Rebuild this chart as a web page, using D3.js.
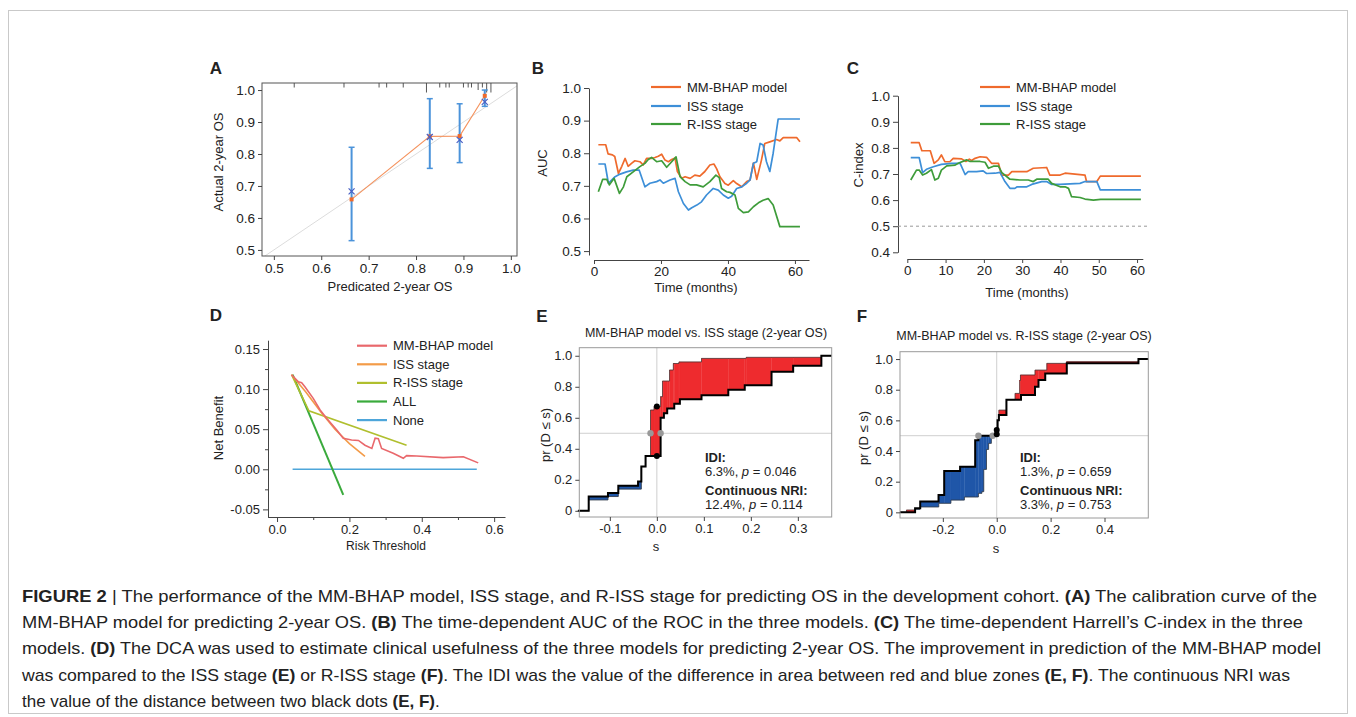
<!DOCTYPE html>
<html>
<head>
<meta charset="utf-8">
<script src="https://cdn.jsdelivr.net/npm/d3@7"></script>
<style>
  body { margin: 0; background: #fff; }
  svg text { font-family: "Liberation Sans", Arial, Helvetica, sans-serif; fill: #222; }
</style>
</head>
<body>
<svg id="fig" width="1356" height="717"></svg>
<script>
// ---------- data ----------
// A: calibration (predicted vs actual 2-year OS)
var calPred = [0.664, 0.829, 0.892, 0.945];
var calObs  = [0.658, 0.855, 0.856, 0.982];
var calCorr = [0.683, 0.853, 0.844, 0.963];
var calLo   = [0.529, 0.755, 0.773, 0.949];
var calHi   = [0.821, 0.973, 0.957, 1.000];
var rugX = [0.543, 0.648, 0.722, 0.738, 0.773, 0.822, 0.850, 0.863, 0.870, 0.900, 0.910, 0.917, 0.931, 0.940, 0.949, 0.958];
var rugN = [1, 1, 1, 1, 1, 3, 1, 1, 1, 1, 1, 1, 2, 1, 3, 3];

// B: time-dependent AUC  [month, AUC]
var aucModel = [[1.3,0.826],[3.5,0.826],[4.2,0.798],[5.5,0.795],[6.2,0.79],[7.3,0.738],[8.3,0.76],[9.3,0.784],[10.2,0.76],[11.2,0.769],[12.2,0.777],[13.7,0.774],[14.7,0.764],[15.7,0.784],[17.2,0.784],[18.2,0.787],[19.2,0.791],[20.2,0.797],[21.2,0.779],[22.2,0.774],[23.2,0.781],[24.2,0.785],[24.9,0.744],[26.2,0.723],[27.2,0.728],[28.7,0.723],[30.1,0.733],[31.6,0.73],[33.1,0.744],[34.6,0.764],[35.8,0.767],[36.6,0.753],[37.6,0.728],[39.1,0.707],[40.1,0.702],[41.6,0.716],[42.6,0.707],[44.1,0.697],[45.6,0.713],[46.6,0.718],[47.6,0.77],[48.6,0.72],[50,0.779],[51,0.83],[52.5,0.835],[54.5,0.842],[55.5,0.838],[56.5,0.848],[60.5,0.848],[61.5,0.835]];
var aucISS = [[1.3,0.767],[3.3,0.767],[4.3,0.708],[6.3,0.728],[7.8,0.736],[9.7,0.743],[11.7,0.748],[13.5,0.748],[15.2,0.697],[16.7,0.708],[18.7,0.713],[19.7,0.718],[20.7,0.708],[22.7,0.718],[24.2,0.723],[25.2,0.682],[26.7,0.646],[28.2,0.626],[29.2,0.633],[30.7,0.641],[32.1,0.651],[33.6,0.672],[35.6,0.692],[37.1,0.687],[38.6,0.672],[40.1,0.662],[41.1,0.668],[42.6,0.692],[44.1,0.697],[45.6,0.708],[46.6,0.718],[47.6,0.769],[48.6,0.774],[49.6,0.83],[50.5,0.825],[51.5,0.774],[52.5,0.744],[53.5,0.8],[55,0.905],[61.5,0.905]];
var aucRISS = [[1.3,0.682],[2.6,0.72],[3.8,0.72],[4.6,0.703],[6,0.723],[7.6,0.677],[8.8,0.697],[9.8,0.728],[11.7,0.743],[13.7,0.759],[15.2,0.769],[16.2,0.781],[17.2,0.787],[18.7,0.774],[20.2,0.777],[21.7,0.757],[23.2,0.774],[24.5,0.789],[25.7,0.728],[27.2,0.713],[28.7,0.703],[30.6,0.703],[32.6,0.697],[34.6,0.713],[36.4,0.733],[37.4,0.725],[38.1,0.692],[39.6,0.682],[40.6,0.68],[42.1,0.672],[43.1,0.631],[44.6,0.618],[46.1,0.62],[47.6,0.636],[49.1,0.648],[50.5,0.656],[52,0.661],[53.5,0.641],[55.5,0.575],[61.5,0.575]];

// C: time-dependent C-index  [month, C]
var cModel = [[0.9,0.82],[3.1,0.82],[3.8,0.789],[6,0.789],[7,0.741],[8.1,0.754],[8.9,0.773],[9.8,0.747],[11.1,0.747],[12,0.76],[14.2,0.758],[15.3,0.748],[16.2,0.757],[16.8,0.752],[17.7,0.76],[19,0.766],[20.7,0.764],[22,0.741],[23.8,0.741],[24.6,0.696],[26.4,0.696],[27.3,0.709],[31.2,0.709],[32.9,0.722],[36.4,0.725],[37.2,0.696],[39.9,0.696],[41.2,0.703],[46.4,0.696],[46.8,0.671],[49.5,0.671],[50.4,0.692],[61,0.692]];
var cISS = [[0.9,0.763],[3.1,0.763],[4,0.705],[5,0.718],[6.8,0.728],[8.9,0.737],[11.6,0.741],[13.8,0.741],[15.1,0.698],[15.9,0.709],[18.1,0.709],[19.8,0.712],[20.7,0.702],[22.9,0.703],[24.2,0.706],[25.5,0.671],[26.8,0.645],[28.1,0.645],[28.7,0.651],[31.2,0.651],[32.5,0.66],[35.1,0.671],[36.4,0.671],[37.7,0.66],[39.9,0.66],[45.1,0.664],[46.4,0.671],[49.5,0.671],[50.4,0.639],[61,0.639]];
var cRISS = [[0.9,0.677],[2.4,0.715],[3.1,0.715],[4,0.696],[5,0.703],[6.3,0.717],[7.2,0.677],[8.1,0.684],[8.9,0.715],[10.3,0.731],[12.5,0.734],[13.3,0.741],[15.5,0.754],[16.4,0.748],[19,0.748],[20.3,0.745],[21.2,0.722],[22.5,0.73],[23.8,0.73],[24.7,0.705],[26.8,0.68],[29.4,0.677],[31.6,0.677],[32.9,0.671],[33.8,0.68],[36.8,0.68],[37.7,0.664],[39.9,0.651],[41.2,0.651],[42.1,0.645],[42.9,0.613],[45.1,0.61],[46.4,0.604],[48.6,0.6],[50.5,0.603],[61,0.603]];

// D: decision curves  [threshold, net benefit]
var dcaModel = [[0.04,0.118],[0.059,0.109],[0.068,0.108],[0.077,0.103],[0.1,0.0885],[0.119,0.074],[0.137,0.0636],[0.165,0.049],[0.183,0.0387],[0.206,0.0365],[0.225,0.036],[0.243,0.03],[0.262,0.026],[0.271,0.0387],[0.28,0.038],[0.289,0.026],[0.321,0.02],[0.349,0.0137],[0.358,0.017],[0.386,0.0166],[0.459,0.0145],[0.515,0.0157],[0.556,0.008]];
var dcaISS = [[0.04,0.118],[0.08,0.096],[0.12,0.072],[0.16,0.05],[0.2,0.032],[0.243,0.016]];
var dcaRISS = [[0.04,0.118],[0.088,0.073],[0.358,0.03]];
var dcaAll = [[0.043,0.118],[0.183,-0.032]];
var dcaNone = [[0.043,0],[0.552,0]];

// E, F: cumulative distributions of risk difference  [s, pr(D<=s)]
var idiE_A = [[-0.168,0],[-0.145,0.092],[-0.104,0.114],[-0.082,0.161],[-0.04,0.189],[-0.033,0.285],[-0.024,0.354],[0.008,0.6],[0.015,0.63],[0.022,0.66],[0.037,0.69],[0.049,0.72],[0.095,0.745],[0.152,0.78],[0.187,0.81],[0.244,0.897],[0.29,0.935],[0.35,1.0]];
var idiE_B = [[-0.168,0],[-0.145,0.07],[-0.104,0.092],[-0.082,0.14],[-0.033,0.285],[-0.024,0.354],[-0.0135,0.65],[-0.006,0.672],[0.008,0.736],[0.012,0.837],[0.027,0.908],[0.035,0.95],[0.047,0.96],[0.095,0.983],[0.19,0.99],[0.35,1.0]];
var idiF_A = [[-0.359,0],[-0.303,0.026],[-0.284,0.07],[-0.216,0.113],[-0.195,0.27],[-0.136,0.298],[-0.08,0.47],[-0.068,0.5],[-0.002,0.51],[0.003,0.6],[0.008,0.635],[0.036,0.735],[0.09,0.765],[0.142,0.82],[0.155,0.863],[0.18,0.906],[0.26,0.972],[0.526,1.0]];
var idiF_B = [[-0.359,0],[-0.335,0.015],[-0.303,0.02],[-0.285,0.035],[-0.215,0.059],[-0.17,0.08],[-0.12,0.1],[-0.068,0.124],[-0.055,0.135],[-0.048,0.28],[-0.038,0.41],[-0.03,0.45],[-0.02,0.49],[-0.015,0.5],[0,0.537],[0.004,0.6],[0.008,0.667],[0.036,0.735],[0.068,0.776],[0.085,0.86],[0.088,0.896],[0.142,0.928],[0.186,0.972],[0.26,0.983],[0.526,1.0]];

var seriesNames = ["MM-BHAP model", "ISS stage", "R-ISS stage"];
var seriesColors = ["#ef6a2c", "#3d8fd8", "#3e9c3a"];
var dcaNames = ["MM-BHAP model", "ISS stage", "R-ISS stage", "ALL", "None"];
var dcaColors = ["#e9686c", "#f39b48", "#b0bf2e", "#3aaa3c", "#4ea6da"];

var captionLines = [
  [["FIGURE 2", 1], [" | The performance of the MM-BHAP model, ISS stage, and R-ISS stage for predicting OS in the development cohort. ", 0], ["(A)", 1], [" The calibration curve of the", 0]],
  [["MM-BHAP model for predicting 2-year OS. ", 0], ["(B)", 1], [" The time-dependent AUC of the ROC in the three models. ", 0], ["(C)", 1], [" The time-dependent Harrell\u2019s C-index in the three", 0]],
  [["models. ", 0], ["(D)", 1], [" The DCA was used to estimate clinical usefulness of the three models for predicting 2-year OS. The improvement in prediction of the MM-BHAP model", 0]],
  [["was compared to the ISS stage ", 0], ["(E)", 1], [" or R-ISS stage ", 0], ["(F)", 1], [". The IDI was the value of the difference in area between red and blue zones ", 0], ["(E, F)", 1], [". The continuous NRI was", 0]],
  [["the value of the distance between two black dots ", 0], ["(E, F)", 1], [".", 0]]
];
var captionWidths = [1295, 1281, 1299, 1268, null];

// ---------- helpers ----------
var FONT = '"Liberation Sans", Arial, Helvetica, sans-serif';
var svg = d3.select("#fig");

svg.append("rect").attr("x", 8.5).attr("y", 10.5).attr("width", 1339).attr("height", 703)
  .attr("fill", "none").attr("stroke", "#c9c9c9");

function fmt(spec) {
  var f = d3.format(spec);
  return function (d) { return f(d).replace("\u2212", "-"); };
}

function styleAxis(g, size) {
  g.attr("font-family", FONT).attr("font-size", size || 13);
  g.selectAll(".domain").attr("stroke", "#444");
  g.selectAll(".tick line").attr("stroke", "#444");
  g.selectAll(".tick text").attr("fill", "#222");
}

function text(x, y, str, size, opts) {
  opts = opts || {};
  var t = svg.append("text").attr("x", x).attr("y", y).attr("font-size", size)
    .attr("text-anchor", opts.anchor || "start").attr("dominant-baseline", "central")
    .text(str);
  if (opts.bold) t.attr("font-weight", "bold");
  if (opts.rotate) t.attr("transform", "rotate(-90," + x + "," + y + ")").attr("text-anchor", "middle");
  return t;
}

function stepValue(curve, s) {
  var v = curve[0][1];
  curve.forEach(function (d) { if (d[0] <= s) v = d[1]; });
  return v;
}
function firstCross(curve, p) {
  for (var i = 0; i < curve.length; i++) if (curve[i][1] >= p) return curve[i][0];
  return null;
}

// panel letters
[["A", 216, 68], ["B", 538, 68], ["C", 853, 68], ["D", 216, 315], ["E", 542, 316], ["F", 862, 316]]
  .forEach(function (d) { text(d[1], d[2], d[0], 17, { bold: true, anchor: "middle" }); });

// ---------- A: calibration ----------
(function () {
  var x = d3.scaleLinear().domain([0.475, 1.013]).range([262, 517]);
  var y = d3.scaleLinear().domain([0.481, 1.022]).range([256, 83]);
  var g = svg.append("g");
  g.append("clipPath").attr("id", "clipA").append("rect")
    .attr("x", 262).attr("y", 83).attr("width", 255).attr("height", 173);
  g.append("line").attr("clip-path", "url(#clipA)")
    .attr("x1", x(0.475)).attr("y1", y(0.475)).attr("x2", x(1.013)).attr("y2", y(1.013))
    .attr("stroke", "#dcdcdc").attr("stroke-width", 1);
  g.append("rect").attr("x", 262).attr("y", 83).attr("width", 255).attr("height", 173)
    .attr("fill", "none").attr("stroke", "#555");

  var ax = g.append("g").attr("transform", "translate(0,256)")
    .call(d3.axisBottom(x).tickValues([0.5, 0.6, 0.7, 0.8, 0.9, 1.0]).tickFormat(fmt(".1f")).tickSize(4).tickSizeOuter(0));
  ax.select(".domain").remove();
  styleAxis(ax, 13.5);
  var ay = g.append("g").attr("transform", "translate(262,0)")
    .call(d3.axisLeft(y).tickValues([0.5, 0.6, 0.7, 0.8, 0.9, 1.0]).tickFormat(fmt(".1f")).tickSize(4).tickSizeOuter(0));
  ay.select(".domain").remove();
  styleAxis(ay, 13.5);

  // rug of predicted values along the top
  g.selectAll(".rug").data(rugX).enter().append("line")
    .attr("x1", function (d) { return x(d); }).attr("x2", function (d) { return x(d); })
    .attr("y1", 83).attr("y2", function (d, i) { return 84 + 2.5 * rugN[i] + 1; })
    .attr("stroke", "#444").attr("stroke-width", 0.9);

  var pts = calPred.map(function (p, i) { return { p: p, o: calObs[i], c: calCorr[i], lo: calLo[i], hi: calHi[i] }; });
  g.append("path").datum(pts)
    .attr("d", d3.line().x(function (d) { return x(d.p); }).y(function (d) { return y(d.o); }))
    .attr("fill", "none").attr("stroke", "#f5935e").attr("stroke-width", 1.1);
  pts.forEach(function (d) {
    g.append("line").attr("x1", x(d.p)).attr("x2", x(d.p)).attr("y1", y(d.lo)).attr("y2", y(d.hi))
      .attr("stroke", "#4b93da").attr("stroke-width", 2);
    [d.lo, d.hi].forEach(function (v) {
      g.append("line").attr("x1", x(d.p) - 3).attr("x2", x(d.p) + 3).attr("y1", y(v)).attr("y2", y(v))
        .attr("stroke", "#4b93da").attr("stroke-width", 1.5);
    });
    g.append("rect").attr("x", x(d.p) - 2).attr("y", y(d.o) - 2).attr("width", 4).attr("height", 4)
      .attr("fill", "#ef6a2c");
    var cx = x(d.p), cy = y(d.c);
    g.append("path").attr("d", "M" + (cx - 3) + "," + (cy - 3) + "L" + (cx + 3) + "," + (cy + 3) +
      "M" + (cx - 3) + "," + (cy + 3) + "L" + (cx + 3) + "," + (cy - 3))
      .attr("stroke", "#4a5fc4").attr("stroke-width", 1.2);
  });
  text(218, 162, "Actual 2-year OS", 13, { rotate: true });
  text(390, 286, "Predicated 2-year OS", 13, { anchor: "middle" });
})();

// ---------- B / C: time-dependent lines ----------
function timePanel(cfg) {
  var x = d3.scaleLinear().domain(cfg.xDom).range(cfg.xRange);
  var y = d3.scaleLinear().domain(cfg.yDom).range(cfg.yRange);
  var g = svg.append("g");
  var ax = g.append("g").attr("transform", "translate(0," + cfg.xAxisY + ")")
    .call(d3.axisBottom(x).tickValues(cfg.xTicks).tickFormat(fmt("d")).tickSize(4).tickPadding(2).tickSizeOuter(0));
  styleAxis(ax, 13.5);
  var ay = g.append("g").attr("transform", "translate(" + cfg.yAxisX + ",0)")
    .call(d3.axisLeft(y).tickValues(cfg.yTicks).tickFormat(fmt(".1f")).tickSize(5).tickSizeOuter(0));
  styleAxis(ay, 13.5);
  if (cfg.ref != null) {
    g.append("line").attr("x1", cfg.yAxisX).attr("x2", cfg.refEnd).attr("y1", y(cfg.ref)).attr("y2", y(cfg.ref))
      .attr("stroke", "#999").attr("stroke-dasharray", "3,3");
  }
  var line = d3.line().x(function (d) { return x(d[0]); }).y(function (d) { return y(d[1]); });
  cfg.series.forEach(function (s, i) {
    g.append("path").datum(s).attr("d", line).attr("fill", "none")
      .attr("stroke", seriesColors[i]).attr("stroke-width", 1.7).attr("stroke-linejoin", "round");
  });
  seriesNames.forEach(function (n, i) {
    var ly = cfg.legY[i];
    g.append("line").attr("x1", cfg.legX).attr("x2", cfg.legX + 30).attr("y1", ly).attr("y2", ly)
      .attr("stroke", seriesColors[i]).attr("stroke-width", 2.2);
    text(cfg.legX + 36, ly, n, 13);
  });
  text(cfg.yLab[0], cfg.yLab[1], cfg.yTitle, 13, { rotate: true });
  text(cfg.xLab[0], cfg.xLab[1], "Time (months)", 13, { anchor: "middle" });
}

timePanel({
  xDom: [0, 64.2], xRange: [594, 809], yDom: [0.488, 1.0], yRange: [255, 88],
  xAxisY: 260, yAxisX: 589, xTicks: [0, 20, 40, 60], yTicks: [0.5, 0.6, 0.7, 0.8, 0.9, 1.0],
  series: [aucModel, aucISS, aucRISS], legX: 651, legY: [87, 106, 124],
  yTitle: "AUC", yLab: [542, 163], xLab: [696, 287]
});
timePanel({
  xDom: [0, 61.5], xRange: [907.3, 1142.8], yDom: [0.4, 1.0], yRange: [252.3, 95.7],
  xAxisY: 259, yAxisX: 898, xTicks: [0, 10, 20, 30, 40, 50, 60], yTicks: [0.4, 0.5, 0.6, 0.7, 0.8, 0.9, 1.0],
  ref: 0.5, refEnd: 1150,
  series: [cModel, cISS, cRISS], legX: 980, legY: [87, 106, 124],
  yTitle: "C-index", yLab: [858, 165], xLab: [1027, 292]
});

// ---------- D: decision curve ----------
(function () {
  var x = d3.scaleLinear().domain([-0.025, 0.63]).range([268, 505]);
  var y = d3.scaleLinear().domain([-0.06, 0.161]).range([517.4, 340.2]);
  var g = svg.append("g");
  var ax = g.append("g").attr("transform", "translate(0,517)")
    .call(d3.axisBottom(x).tickValues([0, 0.2, 0.4, 0.6]).tickFormat(fmt(".1f")).tickSize(5).tickSizeOuter(0));
  styleAxis(ax, 13);
  g.append("g").attr("transform", "translate(0,517)")
    .call(d3.axisBottom(x).tickValues([0.1, 0.3, 0.5]).tickFormat("").tickSize(3).tickSizeOuter(0))
    .call(function (s) { s.select(".domain").remove(); s.selectAll("line").attr("stroke", "#444"); });
  var ay = g.append("g").attr("transform", "translate(268,0)")
    .call(d3.axisLeft(y).tickValues([-0.05, 0, 0.05, 0.1, 0.15]).tickFormat(fmt(".2f")).tickSize(5).tickSizeOuter(0));
  styleAxis(ay, 13);
  g.append("g").attr("transform", "translate(268,0)")
    .call(d3.axisLeft(y).tickValues([-0.025, 0.025, 0.075, 0.125]).tickFormat("").tickSize(3).tickSizeOuter(0))
    .call(function (s) { s.select(".domain").remove(); s.selectAll("line").attr("stroke", "#444"); });

  var line = d3.line().x(function (d) { return x(d[0]); }).y(function (d) { return y(d[1]); });
  var curves = [dcaModel, dcaISS, dcaRISS, dcaAll, dcaNone];
  [4, 3, 2, 1, 0].forEach(function (i) {
    g.append("path").datum(curves[i]).attr("d", line).attr("fill", "none")
      .attr("stroke", dcaColors[i]).attr("stroke-width", i === 3 ? 2 : 1.6);
  });
  dcaNames.forEach(function (n, i) {
    var ly = 345.7 + i * 18.6;
    g.append("line").attr("x1", 357).attr("x2", 387).attr("y1", ly).attr("y2", ly)
      .attr("stroke", dcaColors[i]).attr("stroke-width", 2.2);
    text(393, ly, n, 13);
  });
  text(218, 428, "Net Benefit", 13, { rotate: true });
  text(386, 546, "Risk Threshold", 12, { anchor: "middle" });
})();

// ---------- E / F: IDI / NRI plots ----------
function idiPanel(cfg) {
  var x = d3.scaleLinear().domain(cfg.sDom).range(cfg.xRange);
  var y = d3.scaleLinear().domain(cfg.pDom).range(cfg.yRange);
  var g = svg.append("g");
  var x0 = cfg.xRange[0], x1 = cfg.xRange[1], y0 = cfg.yRange[1], y1 = cfg.yRange[0];

  // reference lines
  g.append("line").attr("x1", x0).attr("x2", x1).attr("y1", y(0.5)).attr("y2", y(0.5)).attr("stroke", "#cfcfcf");
  g.append("line").attr("x1", x(0)).attr("x2", x(0)).attr("y1", y0).attr("y2", y1).attr("stroke", "#cfcfcf");

  // red / blue zones between the two distributions
  var A = cfg.A, B = cfg.B;
  var brk = A.map(function (d) { return d[0]; }).concat(B.map(function (d) { return d[0]; }));
  brk.push(cfg.sEnd);
  brk = Array.from(new Set(brk)).sort(d3.ascending);
  for (var i = 0; i < brk.length - 1; i++) {
    var a = stepValue(A, brk[i]), b = stepValue(B, brk[i]);
    if (a === b) continue;
    g.append("rect").attr("x", x(brk[i])).attr("width", x(brk[i + 1]) - x(brk[i]))
      .attr("y", y(Math.max(a, b))).attr("height", Math.abs(y(a) - y(b)))
      .attr("fill", b > a ? "#ee2b2e" : "#1f56a8").attr("stroke", b > a ? "#ee2b2e" : "#1f56a8").attr("stroke-width", 0.3);
  }
  var step = d3.line().curve(d3.curveStepAfter).x(function (d) { return x(d[0]); }).y(function (d) { return y(d[1]); });
  g.append("path").datum(B.concat([[cfg.sEnd, B[B.length - 1][1]]])).attr("d", step)
    .attr("fill", "none").attr("stroke", "#333").attr("stroke-width", 0.7);
  g.append("path").datum(A.concat([[cfg.sEnd, A[A.length - 1][1]]])).attr("d", step)
    .attr("fill", "none").attr("stroke", "#000").attr("stroke-width", 2);

  // gray dots: medians; black dots: values at s = 0
  [firstCross(A, 0.5), firstCross(B, 0.5)].forEach(function (s) {
    g.append("circle").attr("cx", x(s)).attr("cy", y(0.5)).attr("r", 3.2).attr("fill", "#999");
  });
  [stepValue(A, 0), stepValue(B, 0)].forEach(function (p) {
    g.append("circle").attr("cx", x(0)).attr("cy", y(p)).attr("r", 3).attr("fill", "#000");
  });

  g.append("rect").attr("x", x0).attr("y", y0).attr("width", x1 - x0).attr("height", y1 - y0)
    .attr("fill", "none").attr("stroke", "#9a9a9a");
  var ax = g.append("g").attr("transform", "translate(0," + y1 + ")")
    .call(d3.axisBottom(x).tickValues(cfg.xTicks).tickFormat(fmt(".1f")).tickSize(4).tickSizeOuter(0));
  ax.select(".domain").remove();
  styleAxis(ax, 13);
  var ay = g.append("g").attr("transform", "translate(" + x0 + ",0)")
    .call(d3.axisLeft(y).tickValues([0, 0.2, 0.4, 0.6, 0.8, 1.0])
      .tickFormat(function (d) { return d === 0 ? "0" : d3.format(".1f")(d); }).tickSize(4).tickSizeOuter(0));
  ay.select(".domain").remove();
  styleAxis(ay, 13);

  text(cfg.title[0], cfg.title[1], cfg.titleText, 12.5, { anchor: "middle" });
  text(cfg.yLab[0], cfg.yLab[1], "pr (D \u2264 s)", 13, { rotate: true });
  text(cfg.xLab[0], cfg.xLab[1], "s", 13, { anchor: "middle" });

  var tx = cfg.textX;
  text(tx, 457, "IDI:", 13, { bold: true });
  var t1 = text(tx, 471, "", 13);
  t1.append("tspan").text(cfg.idi[0] + ", ");
  t1.append("tspan").attr("font-style", "italic").text("p");
  t1.append("tspan").text(" = " + cfg.idi[1]);
  text(tx, 490, "Continuous NRI:", 13, { bold: true });
  var t2 = text(tx, 504, "", 13);
  t2.append("tspan").text(cfg.nri[0] + ", ");
  t2.append("tspan").attr("font-style", "italic").text("p");
  t2.append("tspan").text(" = " + cfg.nri[1]);
}

idiPanel({
  A: idiE_A, B: idiE_B, sEnd: 0.372,
  sDom: [-0.165, 0.372], xRange: [579.3, 831.7], pDom: [-0.04, 1.052], yRange: [517, 347.7],
  xTicks: [-0.1, 0, 0.1, 0.2, 0.3],
  title: [706, 333], titleText: "MM-BHAP model vs. ISS stage (2-year OS)",
  yLab: [545, 435], xLab: [656, 546], textX: 705,
  idi: ["6.3%", "0.046"], nri: ["12.4%", "0.114"]
});
idiPanel({
  A: idiF_A, B: idiF_B, sEnd: 0.5625,
  sDom: [-0.359, 0.5625], xRange: [900, 1148.3], pDom: [-0.037, 1.048], yRange: [518, 351.7],
  xTicks: [-0.2, 0, 0.2, 0.4],
  title: [1024, 336], titleText: "MM-BHAP model vs. R-ISS stage (2-year OS)",
  yLab: [863, 438], xLab: [996, 548], textX: 1020,
  idi: ["1.3%", "0.659"], nri: ["3.3%", "0.753"]
});

// ---------- caption ----------
captionLines.forEach(function (line, i) {
  var t = svg.append("text").attr("x", 22).attr("y", 602 + i * 26.2).attr("font-size", 17)
    .attr("fill", "#222");
  if (captionWidths[i]) t.attr("textLength", captionWidths[i]).attr("lengthAdjust", "spacingAndGlyphs");
  line.forEach(function (seg) {
    t.append("tspan").attr("font-weight", seg[1] ? "bold" : "normal").text(seg[0]);
  });
});
</script>
</body>
</html>
